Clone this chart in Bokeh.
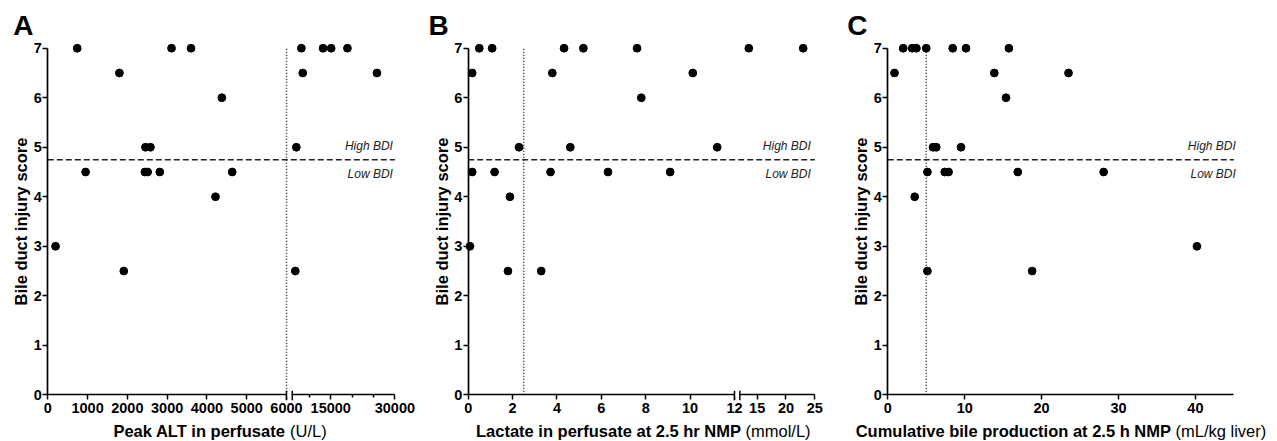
import numpy as np
from bokeh.plotting import figure
from bokeh.layouts import row
from bokeh.models import (FixedTicker, CustomJSTickFormatter, Label, Arrow,
                          Range1d, LinearAxis)
from bokeh.embed import file_html
from bokeh.resources import INLINE

FONT = "Liberation Sans"

# ---------------- data ----------------
# Panel A: peak ALT in perfusate (U/L) vs bile duct injury score
alt_x = [740, 1800, 3110, 3600, 4375, 2455, 2580, 950, 2440, 2510, 2815, 4635,
         4215, 195, 1910, 8130, 8450, 13200, 15100, 18900, 25800, 6950, 6710]
alt_y = [7, 6.5, 7, 7, 6, 5, 5, 4.5, 4.5, 4.5, 4.5, 4.5,
         4, 3, 2.5, 7, 6.5, 7, 7, 7, 6.5, 5, 2.5]

# Panel B: lactate in perfusate at 2.5 hr NMP (mmol/L)
lac_x = [0.08, 0.18, 0.18, 0.5, 1.08, 1.19, 1.88, 1.79, 2.29, 3.29, 3.71, 3.79,
         4.32, 4.6, 5.19, 6.3, 7.61, 7.8, 9.1, 10.12, 11.22, 13.56, 22.98]
lac_y = [3, 6.5, 4.5, 7, 7, 4.5, 4, 2.5, 5, 2.5, 4.5, 6.5,
         7, 5, 7, 4.5, 7, 6, 4.5, 6.5, 5, 7, 7]

# Panel C: cumulative bile production at 2.5 h NMP (mL/kg liver)
bile_x = [0.87, 2.0, 3.16, 3.72, 5.0, 3.5, 5.15, 5.15, 5.88, 6.3, 7.4, 7.9,
          8.44, 9.52, 10.17, 13.85, 15.37, 15.75, 16.9, 18.77, 23.5, 28.07, 40.2]
bile_y = [6.5, 7, 7, 7, 7, 4, 4.5, 2.5, 5, 5, 4.5, 4.5,
          7, 5, 7, 6.5, 6, 7, 4.5, 2.5, 6.5, 4.5, 3]

# tick values / labels
a_major = [0, 1000, 2000, 3000, 4000, 5000, 6000, 15000, 30000]
a_labels = ["0", "1000", "2000", "3000", "4000", "5000", "6000", "15000", "30000"]
a_minor = [10000, 20000, 25000]
b_major = [0, 2, 4, 6, 8, 10, 12, 15, 20, 25]
b_labels = ["0", "2", "4", "6", "8", "10", "12", "15", "20", "25"]
c_major = [0, 10, 20, 30, 40]
c_labels = ["0", "10", "20", "30", "40"]
y_ticks = [0, 1, 2, 3, 4, 5, 6, 7]

bdi_cut = 4.75               # high / low BDI threshold
cutoffs = [6000, 2.5, 5]     # vertical cut-off per panel

# ---------------- layout constants (page pixels) ----------------
PAGE_X = 0
PAGE_Y = 0
H = 441
Y0_PAGE = 394.3        # page y of score 0
PPY = 49.51            # px per score unit


def brk(x, at, gap, k):
    x = np.asarray(x, dtype=float)
    if at is None:
        return x
    return np.where(x <= at, x, at + gap + (x - at) * k)


def make_panel(letter, letter_px, xs, ys, major, labels, minor, brkp, x_end,
               fig_left, fig_w, axis_px, ppx, cutoff,
               bold_txt, unit_txt, unit_px, bdi_off):
    at, gap, k = brkp

    def X(page_px):
        return (page_px - axis_px) / ppx

    def Y(page_py):
        return (Y0_PAGE - page_py) / PPY

    p = figure(frame_width=fig_w, frame_height=H,
               x_range=Range1d(X(fig_left), X(fig_left + fig_w)),
               y_range=Range1d(Y(PAGE_Y + H), Y(PAGE_Y)),
               x_axis_location=None, y_axis_location=None,
               toolbar_location=None, output_backend="svg", min_border=0)
    p.outline_line_color = None
    p.xgrid.visible = False
    p.ygrid.visible = False
    p.background_fill_color = "white"
    p.border_fill_color = "white"

    # threshold lines
    p.segment(x0=[0], y0=[bdi_cut], x1=[x_end], y1=[bdi_cut],
              line_color="#222222", line_width=1.5, line_dash="6 3")
    cu = brk([cutoff], at, gap, k)
    p.segment(x0=cu, y0=[0], x1=cu, y1=[7],
              line_color="#222222", line_width=1.5, line_dash="1 2")

    # points
    p.scatter(x=brk(xs, at, gap, k), y=ys, size=7.8,
              fill_color="black", line_color="black")

    # axes (library axes pinned at the data origin)
    mu = [float(v) for v in brk(major, at, gap, k)]
    mi = [float(v) for v in brk(minor, at, gap, k)] if minor else []
    xa = LinearAxis(fixed_location=0, bounds=(0, x_end))
    xa.ticker = FixedTicker(ticks=mu, minor_ticks=mi)
    xa.formatter = CustomJSTickFormatter(args=dict(t=mu, l=labels), code="""
        let b = 0, d = 1e99;
        for (let i = 0; i < t.length; i++) {
            const e = Math.abs(t[i] - tick);
            if (e < d) { d = e; b = i; }
        }
        return l[b];
    """)
    ya = LinearAxis(fixed_location=0, bounds=(0, 7))
    ya.ticker = FixedTicker(ticks=y_ticks)
    ya.axis_label = "Bile duct injury score"
    ya.axis_label_text_font = FONT
    ya.axis_label_text_font_style = "bold"
    ya.axis_label_text_font_size = "16.5px"
    ya.axis_label_text_color = "black"
    ya.axis_label_standoff = 0
    for ax in (xa, ya):
        ax.axis_line_color = "black"
        ax.axis_line_width = 1.7
        ax.major_tick_line_color = "black"
        ax.major_tick_line_width = 1.5
        ax.minor_tick_line_color = "black"
        ax.minor_tick_line_width = 1.5
        ax.major_tick_in = 0
        ax.major_tick_out = 5
        ax.minor_tick_in = 0
        ax.minor_tick_out = 3
        ax.major_label_text_font = FONT
        ax.major_label_text_font_style = "bold"
        ax.major_label_text_font_size = "14.5px"
        ax.major_label_text_color = "black"
    ya.minor_tick_line_color = None
    ya.major_label_standoff = 1
    xa.major_label_standoff = 3
    p.add_layout(xa, "below")
    p.add_layout(ya, "left")

    # axis break
    if at is not None:
        p.add_layout(Arrow(end=None, x_start=at + gap * 0.1, y_start=0,
                           x_end=at + gap * 0.9, y_end=0,
                           line_color="white", line_width=6))
        for bx in (at, at + gap):
            p.add_layout(Arrow(end=None, x_start=bx, y_start=-5.5 / PPY,
                               x_end=bx, y_end=4 / PPY,
                               line_color="black", line_width=1.5))

    # panel letter
    p.add_layout(Label(x=X(letter_px), y=Y(25), text=letter,
                       text_font=FONT, text_font_style="bold",
                       text_font_size="28px", text_align="left",
                       text_baseline="middle", text_color="black"))
    # x axis title (bold part + normal unit)
    p.add_layout(Label(x=X(unit_px - 4.5), y=Y(430.8), text=bold_txt,
                       text_font=FONT, text_font_style="bold",
                       text_font_size="16.5px", text_align="right",
                       text_baseline="middle", text_color="black"))
    p.add_layout(Label(x=X(unit_px), y=Y(430.8), text=unit_txt,
                       text_font=FONT, text_font_style="normal",
                       text_font_size="16.5px", text_align="left",
                       text_baseline="middle", text_color="black"))
    # BDI labels
    for txt, yy in (("High BDI", 5.03), ("Low BDI", 4.46)):
        p.add_layout(Label(x=x_end, y=yy, x_offset=bdi_off, text=txt,
                           text_font=FONT, text_font_style="italic",
                           text_font_size="12px", text_align="right",
                           text_baseline="middle", text_color="#222222"))
    return p


# Panel A: broken axis 0-6000 | 6000-30000
A_BRK = (6000, 145, 0.1075)
a_end = float(brk([30000], *A_BRK)[0])
pA = make_panel("A", 12.7, alt_x, alt_y, a_major, a_labels, a_minor, A_BRK,
                a_end, PAGE_X, 425, 47.3, 238.7 / 6000, cutoffs[0],
                "Peak ALT in perfusate", "(U/L)", 289.5, -2)

# Panel B: broken axis 0-12 | 12-25
B_BRK = (12, 0.24, 0.26)
b_end = float(brk([25], *B_BRK)[0])
pB = make_panel("B", 428, lac_x, lac_y, b_major, b_labels, [], B_BRK,
                b_end, PAGE_X + 425, 420, 467.7, 266.3 / 12, cutoffs[1],
                "Lactate in perfusate at 2.5 hr NMP", "(mmol/L)", 745, -4)

# Panel C: plain axis 0-45
pC = make_panel("C", 846.7, bile_x, bile_y, c_major, c_labels, [], (None, 0, 1),
                45, PAGE_X + 845, 432, 887.3, 7.69, cutoffs[2],
                "Cumulative bile production at 2.5 h NMP", "(mL/kg liver)",
                1175, 2)

layout = row(pA, pB, pC, spacing=0)
open("out.html", "w").write(file_html(layout, INLINE))
